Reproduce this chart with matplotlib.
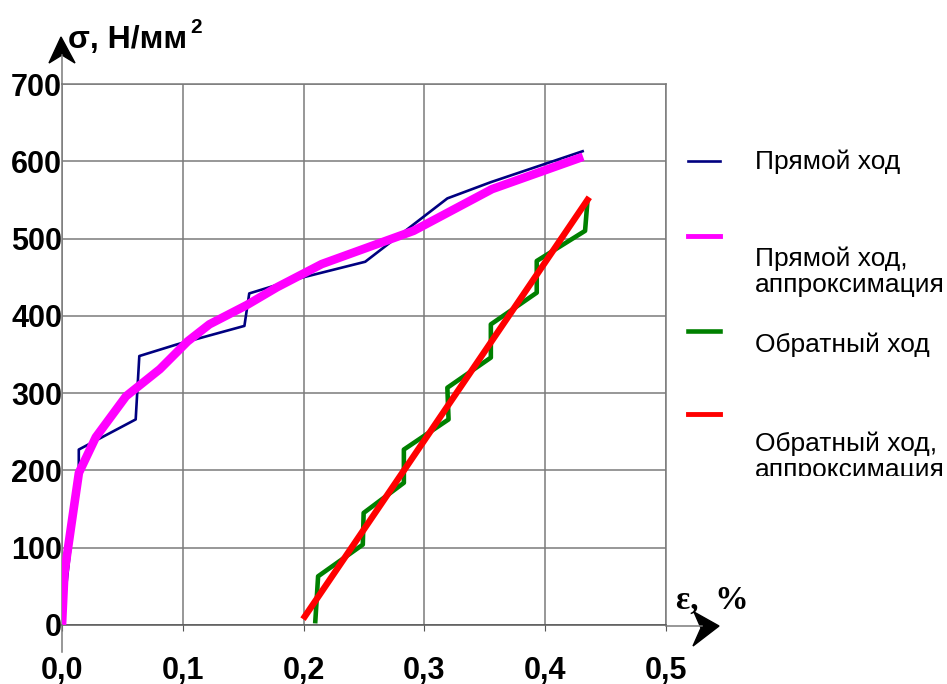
import matplotlib
matplotlib.use('Agg')
import matplotlib.pyplot as plt
from matplotlib.patches import Polygon, Rectangle
from matplotlib.lines import Line2D

W, H = 947, 684

# data
fwd_x = [0.0, 0.0139, 0.0139, 0.061, 0.064, 0.095, 0.151, 0.155, 0.18, 0.2, 0.251, 0.319, 0.355, 0.431]
fwd_y = [0, 201, 227, 266, 348, 363, 387, 429, 441, 450, 470, 552, 573, 613]

fwd_fit_x = [0.0, 0.002, 0.0075, 0.014, 0.028, 0.053, 0.081, 0.104, 0.122, 0.153, 0.178, 0.215, 0.291, 0.356, 0.428]
fwd_fit_y = [0, 67, 127, 197, 243, 296, 331, 367, 389, 414, 437, 467, 510, 564, 604]

back_x = [0.2097, 0.212, 0.249, 0.2497, 0.283, 0.283, 0.320, 0.319, 0.355, 0.355, 0.393, 0.393, 0.433, 0.435]
back_y = [5, 63, 104, 145, 184, 227, 266, 307, 346, 389, 430, 471, 510, 549]

back_fit_x = [0.201, 0.435]
back_fit_y = [11, 550]

x_ticks = [0.0, 0.1, 0.2, 0.3, 0.4, 0.5]
x_labels = ['0,0', '0,1', '0,2', '0,3', '0,4', '0,5']
y_ticks = [0, 100, 200, 300, 400, 500, 600, 700]

legend_names = ['Прямой ход', 'Прямой ход,\nаппроксимация', 'Обратный ход', 'Обратный ход,\nаппроксимация']
colors = ['#000080', '#ff00ff', '#008000', '#ff0000']
widths = [1.9, 6.2, 3.3, 4.6]


def fp(x, y):
    # pixel (from top-left) -> figure fraction
    return x / W, 1 - y / H


plt.rcParams['font.family'] = ['Liberation Sans', 'DejaVu Sans']

fig = plt.figure(figsize=(W / 100, H / 100), dpi=100)
ax = fig.add_axes([62 / W, 1 - 625 / H, (666 - 62) / W, (625 - 84) / H])

ax.plot(fwd_x, fwd_y, color=colors[0], lw=widths[0], zorder=3)
ax.plot(fwd_fit_x, fwd_fit_y, color=colors[1], lw=widths[1], zorder=4)
ax.plot(back_x, back_y, color=colors[2], lw=widths[2], zorder=3)
ax.plot(back_fit_x, back_fit_y, color=colors[3], lw=widths[3], zorder=4)

ax.set_xlim(0, 0.5)
ax.set_ylim(0, 700)
ax.set_xticks(x_ticks)
ax.set_xticklabels(x_labels)
ax.set_yticks(y_ticks)
ax.grid(True, color='#7a7a7a', lw=1.1)
ax.set_axisbelow(True)
for s in ax.spines.values():
    s.set_color('#7a7a7a')
    s.set_linewidth(1.1)
ax.spines['bottom'].set_color('#555555')
ax.tick_params(axis='x', length=4, color='#555555', pad=18, labelsize=22)
ax.tick_params(axis='y', length=0, pad=0, labelsize=22)
for lab in ax.get_xticklabels() + ax.get_yticklabels():
    lab.set_fontweight('bold')

# axis extensions and arrow heads
fig.add_artist(Line2D([fp(62, 0)[0]] * 2, [fp(0, 84)[1], fp(0, 55)[1]], color='#7a7a7a', lw=1.1))
fig.add_artist(Line2D([fp(62, 0)[0]] * 2, [fp(0, 625)[1], fp(0, 652)[1]], color='#7a7a7a', lw=1.1))
fig.add_artist(Line2D([fp(666, 0)[0], fp(702, 0)[0]], [fp(0, 626)[1]] * 2, color='#7a7a7a', lw=1.1))
fig.add_artist(Polygon([fp(61, 37), fp(49, 63), fp(62, 55), fp(75, 63)], closed=True,
                       color='black', transform=fig.transFigure))
fig.add_artist(Polygon([fp(719, 626), fp(694, 612), fp(701, 628), fp(693, 646)], closed=True,
                       color='black', transform=fig.transFigure))

# axis titles
fig.text(*fp(68, 48), 'σ, Н/мм', fontsize=23, fontweight='bold', ha='left', va='baseline')
fig.text(*fp(190, 33), '2', fontsize=15, fontweight='bold', ha='left', va='baseline')
fig.text(*fp(676, 609), 'ε,  %', fontsize=24, fontweight='bold', ha='left', va='baseline',
         family=['Liberation Serif', 'DejaVu Serif'])

# legend
line_y = [161, 236, 331, 414]
text_y = [162, 272, 345, 457]
for name, c, lw, ly, ty in zip(legend_names, colors, widths, line_y, text_y):
    fig.add_artist(Line2D([fp(688, 0)[0], fp(720, 0)[0]], [fp(0, ly)[1]] * 2, color=c,
                          lw=min(lw, 3.5)))
    fig.text(*fp(755, ty), name, fontsize=19, ha='left', va='center', linespacing=1.1)
fig.add_artist(Rectangle(fp(740, 540), (W - 740) / W, 64 / H, transform=fig.transFigure,
                         facecolor='white', edgecolor='none', zorder=10))

fig.savefig('out.png', dpi=100)
